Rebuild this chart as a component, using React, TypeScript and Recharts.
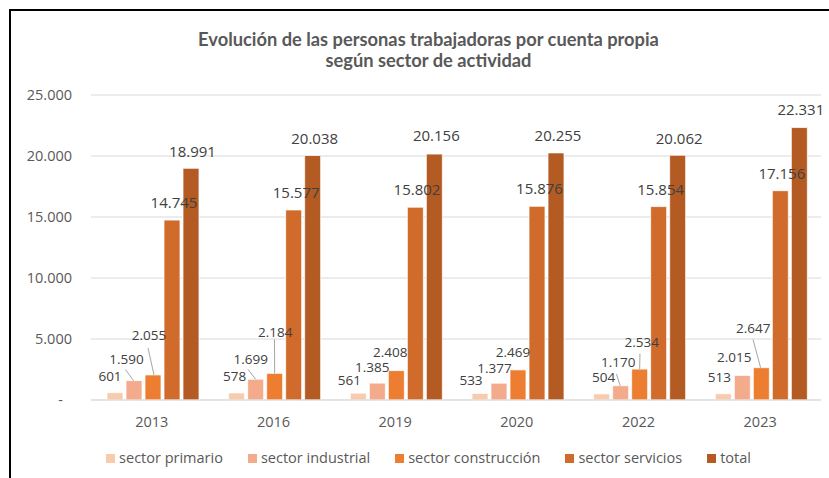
import React from 'react';
import { BarChart, Bar, XAxis, YAxis, CartesianGrid, LabelList } from 'recharts';

// ---- data ----
const years = ['2013', '2016', '2019', '2020', '2022', '2023'];
const primario = [601, 578, 561, 533, 504, 513];
const industrial = [1590, 1699, 1385, 1377, 1170, 2015];
const construccion = [2055, 2184, 2408, 2469, 2534, 2647];
const servicios = [14745, 15577, 15802, 15876, 15854, 17156];
const total = [18991, 20038, 20156, 20255, 20062, 22331];
const yTicks = [0, 5000, 10000, 15000, 20000, 25000];

const seriesNames = ['sector primario', 'sector industrial', 'sector construcción', 'sector servicios', 'total'];
const seriesKeys = ['primario', 'industrial', 'construccion', 'servicios', 'total'];
const colors = ['#F8CBAD', '#F3AB8C', '#ED7D31', '#D16B2B', '#B35B22'];

// ---- label layout (style, relative to bar top-centre) ----
const offPrimario = [[-5, -17], [-2, -17], [-9, -13], [-9, -13.5], [2, -16.5], [-4, -17]];
const offIndustrial = [[-7.5, -21], [-5, -20], [-5, -16], [-4.5, -15], [-2.5, -23.5], [-8, -18.7]];
const leadIndustrial = [[-1, 10, -0.5], [-2.7, 10, 0], null, null, [-1.7, 11.8, -0.5], null];
const offConstruccion = [[-4, -40], [0.5, -41], [-6, -18], [-5, -18], [2, -26.7], [-8, -39.7]];
const leadConstruccion = [[-1, 13, 1], [-0.7, 7, 0], null, null, [-1.7, 11.3, 0], [-0.3, 11.6, -0.7]];
const offServicios = [[2, -18], [2.5, -17], [1.7, -17.7], [2.5, -18], [2, -17.4], [1.5, -17.3]];
const offTotal = [[1.5, -17], [2, -17], [2, -18], [2, -17], [1.5, -17], [1.5, -18]];

const data = years.map((y, i) => ({
  year: y,
  primario: primario[i],
  industrial: industrial[i],
  construccion: construccion[i],
  servicios: servicios[i],
  total: total[i],
}));

const FONT = '"Open Sans", "DejaVu Sans", sans-serif';
const fmt = (n: number) => String(n).replace(/\B(?=(\d{3})+(?!\d))/g, '.');

function makeLabel(offsets: number[][], leaders: (number[] | null)[] | null, fontSize: number) {
  return (props: any) => {
    const { x, y, width, value, index } = props;
    const bx = Number(x) + Number(width) / 2;
    const by = Number(y);
    const o = offsets[index] || [0, -17];
    const cx = bx + o[0];
    const cy = by + o[1];
    const l = leaders ? leaders[index] : null;
    return (
      <g>
        {l && (
          <line x1={cx + l[0]} y1={cy + l[1]} x2={bx + l[2]} y2={by} stroke="#A6A6A6" strokeWidth={1} />
        )}
        <text x={cx} y={cy} dy="0.36em" textAnchor="middle" fontSize={fontSize} fontFamily={FONT} fill="#404040">
          {fmt(Number(value))}
        </text>
      </g>
    );
  };
}

const labelConf = [
  makeLabel(offPrimario, null, 13.5),
  makeLabel(offIndustrial, leadIndustrial, 13.5),
  makeLabel(offConstruccion, leadConstruccion, 13.5),
  makeLabel(offServicios, null, 15),
  makeLabel(offTotal, null, 15),
];

const YTick = (props: any) => {
  const { x, y, payload } = props;
  const v = payload.value;
  return (
    <text x={v === 0 ? x - 9 : x} y={y} dy="0.355em" textAnchor="end" fontSize={14.5} fontFamily={FONT} fill="#595959">
      {v === 0 ? '-' : fmt(v)}
    </text>
  );
};

export default function App() {
  return (
    <div style={{ position: 'fixed', left: 0, top: 0, width: 829, height: 478, overflow: 'hidden', background: '#fff' }}>
      <div
        style={{
          position: 'absolute', left: 9, top: 9, width: 900, height: 520,
          borderLeft: '2px solid #000', borderTop: '2px solid #000', boxSizing: 'border-box',
        }}
      />
      <div
        style={{
          position: 'absolute', left: 0, top: 29, width: 857, textAlign: 'center',
          fontFamily: 'Lato, "Open Sans", sans-serif', fontWeight: 700, fontSize: 18.3, lineHeight: '21px', color: '#595959',
        }}
      >
        <div>Evolución de las personas trabajadoras por cuenta propia</div>
        <div>según sector de actividad</div>
      </div>
      <div style={{ position: 'absolute', left: 0, top: 0 }}>
        <BarChart
          width={829}
          height={478}
          data={data}
          margin={{ top: 95, right: 8, bottom: 0, left: 0 }}
          barCategoryGap={16}
          barGap={3}
        >
          <CartesianGrid vertical={false} stroke="#D9D9D9" strokeWidth={1} />
          <XAxis
            dataKey="year"
            height={78}
            tickSize={0}
            tickMargin={17}
            tickLine={false}
            axisLine={{ stroke: '#D9D9D9', strokeWidth: 1 }}
            tick={{ fontSize: 14.5, fontFamily: FONT, fill: '#595959' }}
          />
          <YAxis
            width={91}
            domain={[0, 25000]}
            ticks={yTicks}
            tickSize={0}
            tickMargin={19}
            tickLine={false}
            axisLine={false}
            tick={<YTick />}
          />
          {seriesKeys.map((k, i) => (
            <Bar key={k} dataKey={k} name={seriesNames[i]} fill={colors[i]} stroke="#FFFFFF" strokeWidth={0.75} isAnimationActive={false}>
              <LabelList dataKey={k} content={labelConf[i]} />
            </Bar>
          ))}
        </BarChart>
      </div>
      <div
        style={{
          position: 'absolute', left: 0, top: 449, width: 857, display: 'flex', justifyContent: 'center',
          gap: 25, fontFamily: FONT, fontSize: 14.5, color: '#595959', lineHeight: '18px',
        }}
      >
        {seriesNames.map((n, i) => (
          <div key={n} style={{ display: 'flex', alignItems: 'center' }}>
            <span style={{ display: 'inline-block', width: 9, height: 9, background: colors[i], marginRight: 4 }} />
            <span>{n}</span>
          </div>
        ))}
      </div>
    </div>
  );
}
